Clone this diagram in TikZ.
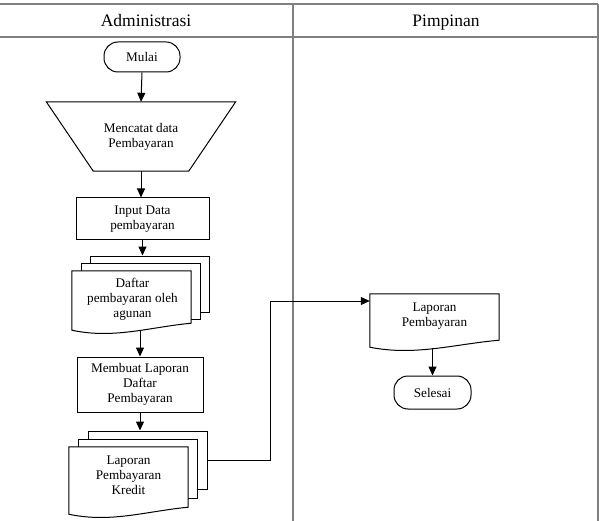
\documentclass[tikz,border=0pt]{standalone}
\usepackage{fontspec}
\setmainfont{Liberation Serif}
\usetikzlibrary{arrows.meta, positioning, calc, shapes}

\tikzset{
    lane/.style={draw=black!50, line width=1.1pt},
    box/.style={draw, fill=white, line width=1pt, align=center, inner sep=1pt,
        font=\fontsize{13.2}{15}\selectfont},
    term/.style={box, rounded corners=14pt},
    sheet/.style={draw, fill=white, line width=1pt, inner sep=0pt, minimum width=119pt},
    docbox/.style={inner sep=0pt},
    txt/.style={align=center, inner sep=0pt, font=\fontsize{13.2}{15}\selectfont},
    head/.style={anchor=base, font=\fontsize{17.5}{20}\selectfont},
    arr/.style={-{Triangle[length=9pt,width=8pt]}, line width=1pt},
}

% document outline with a wavy bottom
\newcommand{\docwave}[1]{%
    \draw[line width=1pt, fill=white] (#1.north west) -- (#1.north east) -- (#1.south east)
        .. controls ($(#1.south east)!0.35!(#1.south west)+(0,4)$)
        and ($(#1.south east)!0.65!(#1.south west)+(0,16)$) .. ($(#1.south west)+(0,7)$)
        -- cycle;}

\begin{document}
\begin{tikzpicture}[x=1pt, y=-1pt]
        \useasboundingbox (0,0) rectangle (599,521);

        % Draw lanes
        \draw[lane] (0,4) -- (598,4);
        \draw[lane] (0,37) -- (598,37);
        \draw[lane] (293,4) -- (293,521);
        \draw[lane] (598,4) -- (598,521);
        \node[head] (adm) at (146,27) {Administrasi};
        \node[head] (pim) at (446,27) {Pimpinan};

        % Define the steps
        \node[term, minimum width=76pt, minimum height=30pt] (mulai) at (142,57) {Mulai};

        \node[txt, minimum width=95pt, minimum height=69pt] (mct) at (141,136.5) {Mencatat data\\Pembayaran};
        \draw[line width=1pt] ($(mct.north west)+(-47,0)$) -- ($(mct.north east)+(47,0)$)
            -- (mct.south east) -- (mct.south west) -- cycle;

        \node[box, minimum width=133pt, minimum height=42pt] (inp) at (142.5,219) {Input Data\\pembayaran};

        \node[sheet, minimum height=56pt] (dpa3) at (149.5,284) {};
        \node[sheet, minimum height=56pt] (dpa2) at (140.5,291) {};
        \node[docbox, minimum width=119pt, minimum height=52pt] (dpa) at (131.5,297) {};
        \docwave{dpa}
        \node[txt] (dpa-t) at (132.5,299) {Daftar\\pembayaran oleh\\agunan};

        \node[box, minimum width=126pt, minimum height=55pt] (mbl) at (140,384.5) {Membuat Laporan\\Daftar\\Pembayaran};

        \node[sheet, minimum height=58pt] (lpk3) at (147.5,460) {};
        \node[sheet, minimum height=59pt] (lpk2) at (137.5,468.5) {};
        \node[docbox, minimum width=119pt, minimum height=60pt] (lpk) at (128.5,477) {};
        \docwave{lpk}
        \node[txt] (lpk-t) at (128.5,475) {Laporan\\Pembayaran\\Kredit};

        \node[docbox, minimum width=129pt, minimum height=46pt] (lp) at (434.5,317) {};
        \docwave{lp}
        \node[txt] (lp-t) at (434.5,316) {Laporan\\Pembayaran};

        \node[term, minimum width=77pt, minimum height=33pt] (sel) at (432.5,392.5) {Selesai};

        % Draw arrows
        \coordinate (bend) at (270,301);
        \draw[arr] (mulai.south) -- (mct.north);
        \draw[arr] (mct.south) -- (mct.south |- inp.north);
        \draw[arr] (inp.south) -- (inp.south |- dpa3.north);
        \draw[arr, shorten <=7pt] (dpa.south -| mbl.north) -- (mbl.north);
        \draw[arr] (mbl.south) -- (mbl.south |- lpk3.north);
        \draw[arr] (lpk3.east) -| (bend) -- (lp.west |- bend);
        \draw[arr, shorten <=8pt] (lp.south -| sel.north) -- (sel.north);
    \end{tikzpicture}
\end{document}
